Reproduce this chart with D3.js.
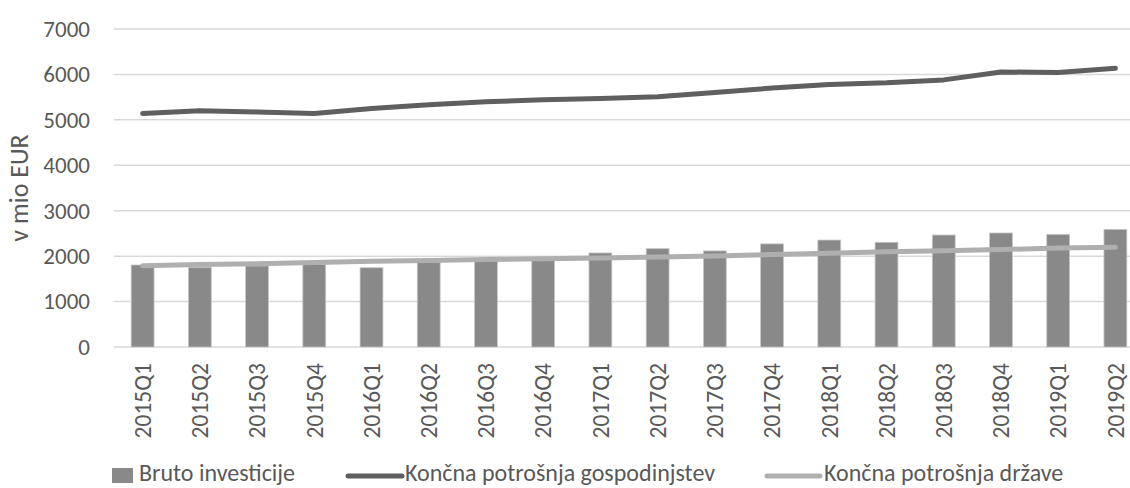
<!DOCTYPE html>
<html>
  <head>
    <meta charset="utf-8">
    <script src="https://d3js.org/d3.v7.min.js"></script>
    <style>
      body {
        margin: 0;
        background-color: white;
        font-family: Carlito, Calibri, Lato, sans-serif;
        overflow: hidden;
      }
    </style>
  </head>
  <body>
    <div id="chart"></div>
    <script>
      var quarters = ['2015Q1','2015Q2','2015Q3','2015Q4','2016Q1','2016Q2','2016Q3','2016Q4',
        '2017Q1','2017Q2','2017Q3','2017Q4','2018Q1','2018Q2','2018Q3','2018Q4','2019Q1','2019Q2'];
      var brutoInvesticije = [1805,1755,1785,1815,1745,1865,1895,1910,2070,2165,2115,2270,2355,2305,2465,2510,2480,2590];
      var potrosnjaGospodinjstev = [5140,5200,5175,5140,5250,5335,5400,5440,5470,5510,5600,5700,5780,5815,5880,6055,6040,6135];
      var potrosnjaDrzave = [1790,1815,1835,1860,1885,1905,1925,1945,1960,1980,2005,2035,2065,2095,2120,2145,2180,2195];
      var yTicks = [0,1000,2000,3000,4000,5000,6000,7000];
      var legendNames = ['Bruto investicije','Končna potrošnja gospodinjstev','Končna potrošnja države'];

      var width = 1130, height = 488;
      var margin = {top: 29, left: 114, bottom: 141};
      var plotRight = 1144; // plot runs past the window edge
      var textColor = "#595959";

      var svg = d3.select("#chart").append("svg")
        .attr("width", width)
        .attr("height", height);

      var x = d3.scaleBand().domain(quarters).range([margin.left, plotRight]).paddingInner(0.6).paddingOuter(0.3);
      var y = d3.scaleLinear().domain([0, 7000]).range([height - margin.bottom, margin.top]);

      // gridlines
      svg.append("g")
        .selectAll("line")
        .data(yTicks)
        .enter().append("line")
          .attr("x1", margin.left)
          .attr("x2", plotRight)
          .attr("y1", function(d) { return y(d); })
          .attr("y2", function(d) { return y(d); })
          .attr("stroke", "#d9d9d9")
          .attr("stroke-width", 1.5);

      // y axis labels
      var yAxis = d3.axisLeft(y).tickValues(yTicks).tickFormat(d3.format("d")).tickSize(0).tickPadding(0);
      var yg = svg.append("g")
        .attr("transform", "translate(90,0)")
        .call(yAxis);
      yg.select(".domain").remove();
      yg.selectAll("text")
        .attr("fill", textColor)
        .style("font-size", "23px")
        .style("font-family", "Carlito, Calibri, Lato, sans-serif");

      svg.append("text")
        .attr("transform", "translate(28,188) rotate(-90)")
        .attr("text-anchor", "middle")
        .attr("fill", textColor)
        .style("font-size", "26px")
        .text("v mio EUR");

      // bars
      svg.append("g")
        .selectAll("rect")
        .data(brutoInvesticije)
        .enter().append("rect")
          .attr("x", function(d, i) { return x(quarters[i]); })
          .attr("y", function(d) { return y(d); })
          .attr("width", x.bandwidth())
          .attr("height", function(d) { return y(0) - y(d); })
          .attr("fill", "#898989")
          .attr("stroke", "#c8c8c8")
          .attr("stroke-width", 0.8);

      var line = d3.line()
        .x(function(d, i) { return x(quarters[i]) + x.bandwidth() / 2; })
        .y(function(d) { return y(d); });

      svg.append("path")
        .datum(potrosnjaDrzave)
        .attr("d", line)
        .attr("fill", "none")
        .attr("stroke", "#afafaf")
        .attr("stroke-width", 5)
        .attr("stroke-linecap", "round")
        .attr("stroke-linejoin", "round");

      svg.append("path")
        .datum(potrosnjaGospodinjstev)
        .attr("d", line)
        .attr("fill", "none")
        .attr("stroke", "#5f5f5f")
        .attr("stroke-width", 5)
        .attr("stroke-linecap", "round")
        .attr("stroke-linejoin", "round");

      // x labels
      var xAxis = d3.axisBottom(x).tickSize(0).tickPadding(0);
      var xg = svg.append("g")
        .attr("transform", "translate(0," + (y(0) + 16) + ")")
        .call(xAxis);
      xg.select(".domain").remove();
      xg.selectAll("text")
        .attr("transform", "rotate(-90)")
        .attr("text-anchor", "end")
        .attr("dy", "0.35em")
        .attr("x", 0)
        .attr("y", 0)
        .attr("fill", textColor)
        .style("font-size", "23.5px")
        .style("font-family", "Carlito, Calibri, Lato, sans-serif");

      // legend
      var legendY = 474;
      var lg = svg.append("g");
      lg.append("rect")
        .attr("x", 112).attr("y", legendY - 6)
        .attr("width", 21).attr("height", 15)
        .attr("fill", "#898989");
      lg.append("text")
        .attr("x", 139).attr("y", legendY + 7)
        .attr("fill", textColor).style("font-size", "24px")
        .text(legendNames[0]);

      lg.append("line")
        .attr("x1", 348).attr("x2", 402)
        .attr("y1", legendY + 2).attr("y2", legendY + 2)
        .attr("stroke", "#5f5f5f").attr("stroke-width", 5).attr("stroke-linecap", "round");
      lg.append("text")
        .attr("x", 405).attr("y", legendY + 7)
        .attr("fill", textColor).style("font-size", "24px")
        .text(legendNames[1]);

      lg.append("line")
        .attr("x1", 767).attr("x2", 820)
        .attr("y1", legendY + 2).attr("y2", legendY + 2)
        .attr("stroke", "#afafaf").attr("stroke-width", 5).attr("stroke-linecap", "round");
      lg.append("text")
        .attr("x", 824).attr("y", legendY + 7)
        .attr("fill", textColor).style("font-size", "24px")
        .text(legendNames[2]);
    </script>
  </body>
</html>
